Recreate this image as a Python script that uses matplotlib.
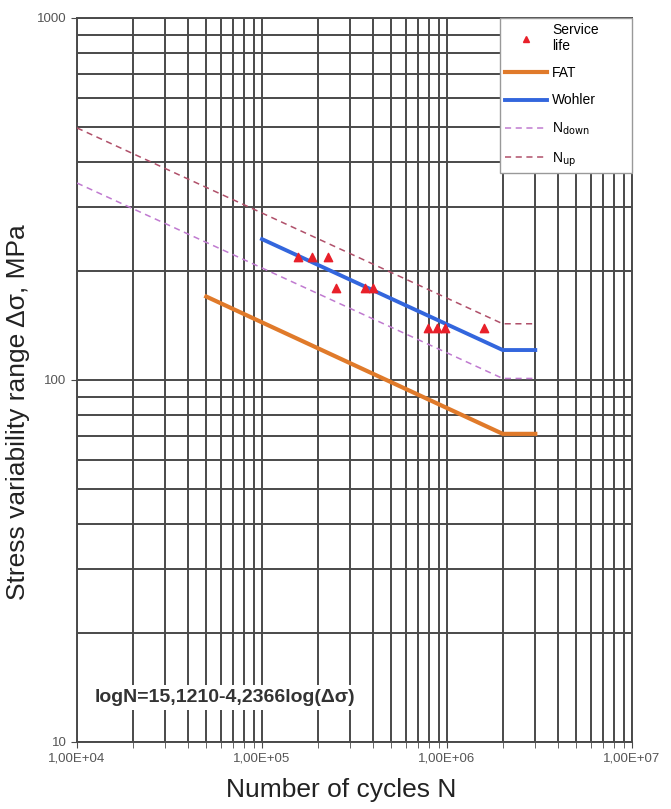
import matplotlib
matplotlib.use("Agg")
import matplotlib.pyplot as plt
from matplotlib.lines import Line2D
from matplotlib.ticker import LogLocator, FixedLocator, FixedFormatter, NullFormatter

plt.rcParams['font.family'] = ['Liberation Sans', 'DejaVu Sans']
plt.rcParams['mathtext.default'] = 'regular'

# --- DATA ---
life_N = [1.57e5, 1.86e5, 2.27e5, 2.51e5, 3.6e5, 3.98e5, 7.9e5, 8.8e5, 9.8e5, 1.58e6]
life_S = [219, 219, 219, 180, 180, 179, 139, 139, 139, 139]

fat_N = [5e4, 2e6, 3e6]
fat_S = [170, 71, 71]

wohler_N = [1e5, 2e6, 3e6]
wohler_S = [245, 121, 121]

ndown_N = [1e4, 2e6, 3e6]
ndown_S = [350, 101, 101]

nup_N = [1e4, 2e6, 3e6]
nup_S = [497, 143, 143]

x_ticks = [1e4, 1e5, 1e6, 1e7]
x_labels = ['1,00E+04', '1,00E+05', '1,00E+06', '1,00E+07']
y_ticks = [10, 100, 1000]
y_labels = ['10', '100', '1000']

formula = 'logN=15,1210-4,2366log(\u0394\u03c3)'

# colours
c_life = '#e8202a'
c_fat = '#e07a2a'
c_wohler = '#3366dd'
c_down = '#c07ad0'
c_up = '#b0506a'
grid_col = '#4a4a4a'

# --- FIGURE ---
fig = plt.figure(figsize=(6.71, 8.09), dpi=100)
ax = fig.add_axes([77/671, 67/809, 555/671, 724/809])

ax.set_xscale('log')
ax.set_yscale('log')
ax.set_xlim(1e4, 1e7)
ax.set_ylim(10, 1000)

ax.grid(True, which='both', color=grid_col, lw=1.4, zorder=0)
ax.xaxis.set_minor_locator(LogLocator(base=10, subs=range(2, 10)))
ax.yaxis.set_minor_locator(LogLocator(base=10, subs=range(2, 10)))
ax.xaxis.set_minor_formatter(NullFormatter())
ax.yaxis.set_minor_formatter(NullFormatter())
ax.xaxis.set_major_locator(FixedLocator(x_ticks))
ax.xaxis.set_major_formatter(FixedFormatter(x_labels))
ax.yaxis.set_major_locator(FixedLocator(y_ticks))
ax.yaxis.set_major_formatter(FixedFormatter(y_labels))
ax.tick_params(which='both', length=4, color=grid_col, labelsize=9.5, labelcolor='#555555')
ax.tick_params(axis='y', which='minor', length=0)
for s in ax.spines.values():
    s.set_color(grid_col)
    s.set_linewidth(1.4)

ax.plot(nup_N, nup_S, ls=(0, (4, 3)), color=c_up, lw=1.1, zorder=3)
ax.plot(ndown_N, ndown_S, ls=(0, (4, 3)), color=c_down, lw=1.1, zorder=3)
ax.plot(wohler_N, wohler_S, color=c_wohler, lw=2.8, zorder=4)
ax.plot(fat_N, fat_S, color=c_fat, lw=3.0, zorder=4)
ax.scatter(life_N, life_S, marker='^', s=36, color=c_life, zorder=5)

# legend handles in the reference order
handles = [
    Line2D([], [], marker='^', ls='none', color=c_life, markersize=5),
    Line2D([], [], color=c_fat, lw=3.0),
    Line2D([], [], color=c_wohler, lw=2.8),
    Line2D([], [], color=c_down, lw=1.1, ls=(0, (4, 3))),
    Line2D([], [], color=c_up, lw=1.1, ls=(0, (4, 3))),
]
labels = ['Service\nlife', 'FAT', 'Wohler', r'N$_{\rm down}$', r'N$_{\rm up}$']
x0 = (500 - 77) / 555
leg = ax.legend(handles, labels, loc='upper left', bbox_to_anchor=(x0, 0, 1 - x0, 1.0),
                mode='expand', borderaxespad=0, fancybox=False, framealpha=1,
                edgecolor='#999999', fontsize=10, labelspacing=0.95, handlelength=3.0,
                handletextpad=0.4, borderpad=0.35)
leg.get_frame().set_linewidth(1.0)
leg.set_zorder(6)

ax.text(1.25e4, 13.3, formula, fontsize=14, fontweight='bold', color='#333333',
        va='center', ha='left', zorder=6,
        bbox=dict(facecolor='white', edgecolor='none', pad=3))

fig.text(18/671, 1 - 412/809, 'Stress variability range \u0394\u03c3, MPa', rotation=90,
         ha='center', va='center', fontsize=19, color='#222222')
fig.text(341/671, 1 - 790/809, 'Number of cycles N', ha='center', va='center',
         fontsize=19, color='#222222')

fig.savefig('out.png', dpi=100)
